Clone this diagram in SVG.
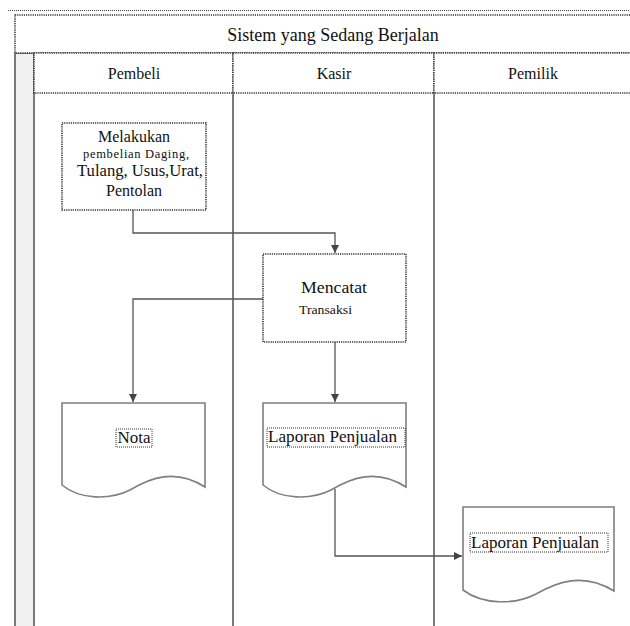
<svg xmlns="http://www.w3.org/2000/svg" width="630" height="626" viewBox="0 0 630 626" font-family="'Liberation Serif', 'Times New Roman', serif">
<style>
.dot{fill:#fff;stroke:#333;stroke-width:1.6;stroke-dasharray:1.2 1}
.lane{stroke:#7a7a7a;stroke-width:2;fill:none}
.doc{fill:#fff;stroke:#7f7f7f;stroke-width:1.6}
.lbl{fill:none;stroke:#333;stroke-width:1;stroke-dasharray:1 1}
.conn{fill:none;stroke:#555;stroke-width:1.3}
text{font-family:'Liberation Serif','Times New Roman',serif;fill:#111}
.c{text-anchor:middle}
</style>
<defs>
<marker id="arr" viewBox="0 0 10 10" refX="10" refY="5" markerWidth="8" markerHeight="8" markerUnits="userSpaceOnUse" orient="auto">
<path d="M0,0 L10,5 L0,10 Z" fill="#444"/>
</marker>
</defs>
<rect width="630" height="626" fill="#fff"/>
<line x1="8" y1="10.5" x2="630" y2="10.5" stroke="#444" stroke-width="1" stroke-dasharray="1 1"/>
<g id="pool">
<rect x="15" y="53" width="19" height="580" fill="#f0f0f0" stroke="#7a7a7a" stroke-width="2"/>
<rect class="dot" x="15" y="15" width="620" height="38"/>
<text class="c" x="333" y="41" font-size="18">Sistem yang Sedang Berjalan</text>
</g>
<g id="lane-pembeli">
<rect class="dot" x="34" y="53" width="199" height="40"/>
<text class="c" x="134" y="79" font-size="16">Pembeli</text>
</g>
<g id="lane-kasir">
<rect class="dot" x="233" y="53" width="201" height="40"/>
<text class="c" x="334" y="79" font-size="16">Kasir</text>
<line class="lane" x1="233" y1="93" x2="233" y2="630"/>
</g>
<g id="lane-pemilik">
<rect class="dot" x="434" y="53" width="200" height="40"/>
<text class="c" x="533" y="79" font-size="16">Pemilik</text>
<line class="lane" x1="434" y1="93" x2="434" y2="630"/>
</g>
<g id="connectors">
<path class="conn" d="M133,210 V233 H335 V253" marker-end="url(#arr)"/>
<path class="conn" d="M263,299 H133 V402" marker-end="url(#arr)"/>
<path class="conn" d="M335,342 V402" marker-end="url(#arr)"/>
<path class="conn" d="M335,489 V556 H462" marker-end="url(#arr)"/>
</g>
<g id="melakukan-pembelian">
<rect class="dot" x="62" y="123" width="144" height="87"/>
<text class="c" x="134" y="142" font-size="16">Melakukan</text>
<text class="c" x="136" y="158" font-size="12.5" textLength="106" lengthAdjust="spacing">pembelian  Daging,</text>
<text class="c" x="140" y="176" font-size="16" textLength="126" lengthAdjust="spacingAndGlyphs">Tulang, Usus,Urat,</text>
<text class="c" x="134" y="196" font-size="16">Pentolan</text>
</g>
<g id="mencatat-transaksi">
<rect class="dot" x="263" y="254" width="143" height="88"/>
<text x="301" y="293" font-size="17" textLength="66" lengthAdjust="spacingAndGlyphs">Mencatat</text>
<text x="299" y="314" font-size="13" textLength="53" lengthAdjust="spacingAndGlyphs">Transaksi</text>
</g>
<g id="nota">
<path class="doc" d="M62,403 H205 V487 C175,468 150,478 130,490 C110,500 80,500 62,485 Z"/>
<rect class="lbl" x="116" y="429" width="36" height="18"/>
<text class="c" x="134" y="443" font-size="17">Nota</text>
</g>
<g id="laporan-kasir">
<path class="doc" d="M263,403 H406 V487 C376,468 351,478 331,490 C311,500 281,500 263,485 Z"/>
<rect class="lbl" x="267" y="428" width="138" height="19"/>
<text x="268" y="442" font-size="17" textLength="129" lengthAdjust="spacingAndGlyphs">Laporan Penjualan</text>
</g>
<g id="laporan-pemilik">
<path class="doc" d="M463,507 H614 V591 C583,572 557,582 536,594 C515,605 483,605 463,590 Z"/>
<rect class="lbl" x="470" y="533" width="138" height="19"/>
<text x="471" y="548" font-size="17" textLength="128" lengthAdjust="spacingAndGlyphs">Laporan Penjualan</text>
</g>
</svg>
